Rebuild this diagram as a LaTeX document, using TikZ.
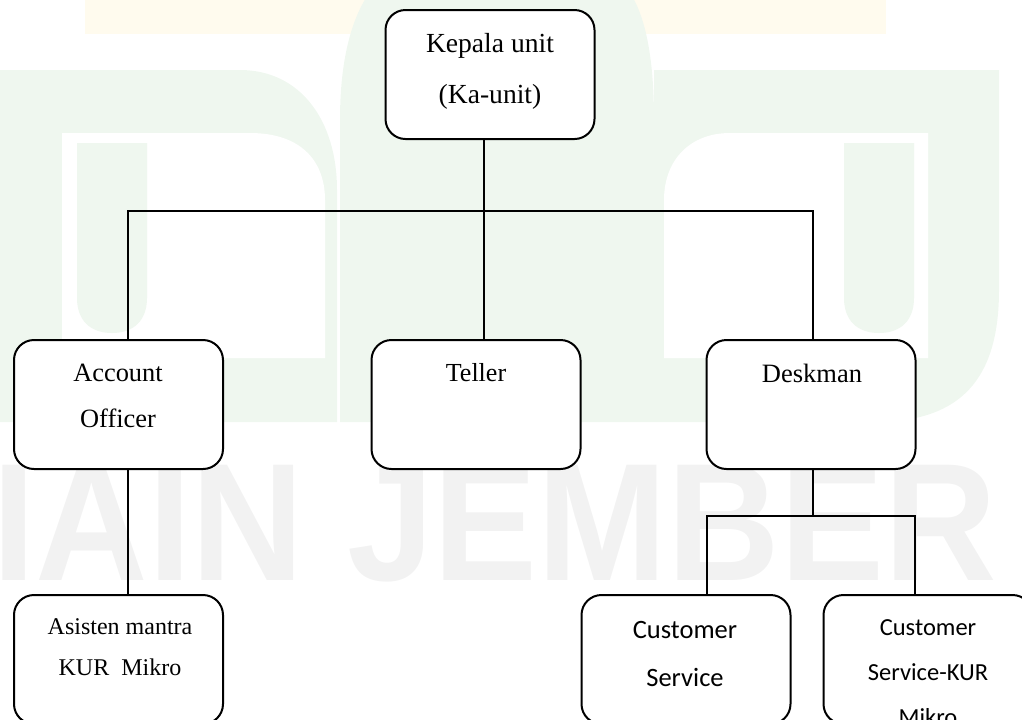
\documentclass[tikz,border=0pt]{standalone}
\usepackage{fontspec}
\setmainfont{Liberation Serif}
\newfontfamily\calibrifont{Carlito}
\newfontfamily\markfont{Liberation Sans}

\definecolor{markgreen}{RGB}{239,247,239}
\definecolor{markgrey}{RGB}{242,242,242}
\definecolor{markyellow}{RGB}{255,251,238}

\tikzset{
  unitbox/.style={draw, fill=white, line width=1pt, rounded corners=10pt,
    minimum width=104.5pt, minimum height=64.5pt, inner sep=0pt},
  link/.style={line width=0.7pt},
  lbl/.style={align=center, inner sep=0pt},
}

\begin{document}
\begin{tikzpicture}[x=0.5pt,y=-0.5pt]
\useasboundingbox (0,0) rectangle (1022,719);
\clip (0,0) rectangle (1022,719);
% faint watermark behind the chart
\fill[markyellow] (85,0) rectangle (886,34);
% left piece of the logo
\fill[markgreen] (0,70) -- (240,70) .. controls (300,70) and (337,120) .. (337,190) -- (337,422) -- (0,422) -- cycle;
\fill[white] (62,133) -- (250,133) .. controls (300,133) and (325,160) .. (325,200) -- (325,358) -- (62,358) -- cycle;
\fill[markgreen] (77,143) -- (77,298) .. controls (77,320) and (90,333) .. (112,333) .. controls (134,333) and (147,320) .. (147,298) -- (147,143) -- cycle;
% middle arch
\fill[markgreen] (340,422) -- (340,120) .. controls (340,40) and (360,0) .. (380,-20) -- (620,-20) .. controls (640,0) and (654,40) .. (654,120) -- (654,422) -- cycle;
% right piece of the logo
\fill[markgreen] (654,70) -- (999,70) -- (999,290) .. controls (999,380) and (960,420) .. (880,422) -- (654,422) -- cycle;
\fill[white] (664,358) -- (664,200) .. controls (664,160) and (690,133) .. (730,133) -- (928,133) -- (928,358) -- cycle;
\fill[markgreen] (844,143) -- (844,298) .. controls (844,320) and (857,333) .. (879,333) .. controls (901,333) and (914,320) .. (914,298) -- (914,143) -- cycle;
% watermark lettering
\node[anchor=base west, inner sep=0pt, text=markgrey] (mark) at (-8,580)
  {\scalebox{0.93}[1]{\markfont\bfseries\fontsize{83.8}{90}\selectfont IAIN JEMBER}};

% boxes of the chart
\foreach \n/\x/\y in {ku/490/74.5, ao/118.5/404.5, tl/476/404.5, dm/811/404.5,
                      am/118.5/659.5, cs/686/659.5, ck/928/659.5}{
  \node[unitbox] (\n) at (\x,\y) {};
}

% drop points of the lines
\coordinate (trunk) at (484,211);
\coordinate (busL) at (128,211);
\coordinate (busR) at (813,211);
\coordinate (subL) at (707,516);
\coordinate (subR) at (915,516);

% lines
\draw[link] (ku.south -| trunk) -- (tl.north -| trunk);
\draw[link] (ao.north -| busL) |- (busR) -- (dm.north -| busR);
\draw[link] (ao.south -| busL) -- (am.north -| busL);
\draw[link] (dm.south -| busR) -- (busR |- subL);
\draw[link] (cs.north -| subL) |- (subR) -- (ck.north -| subR);

% texts
\node[lbl, font=\fontsize{13.8}{25.5}\selectfont] (ku-t) at (490,71.5) {Kepala unit\\(Ka-unit)};
\node[lbl, font=\fontsize{13.2}{23}\selectfont] (ao-t) at (118,396) {Account\\Officer};
\node[lbl, font=\fontsize{13}{20}\selectfont] (tl-t) at (476,373) {Teller};
\node[lbl, font=\fontsize{13.25}{20}\selectfont] (dm-t) at (812,373) {Deskman};
\node[lbl, font=\fontsize{12}{20.5}\selectfont] (am-t) at (120,647.5) {Asisten mantra\\KUR\ \ Mikro};
\node[lbl, font=\calibrifont\fontsize{13.25}{24}\selectfont] (cs-t) at (685,654) {Customer\\Service};
\node[lbl, font=\calibrifont\fontsize{12.25}{22.5}\selectfont] (ck-t) at (928,673) {Customer\\Service-KUR\\Mikro};
\end{tikzpicture}
\end{document}
